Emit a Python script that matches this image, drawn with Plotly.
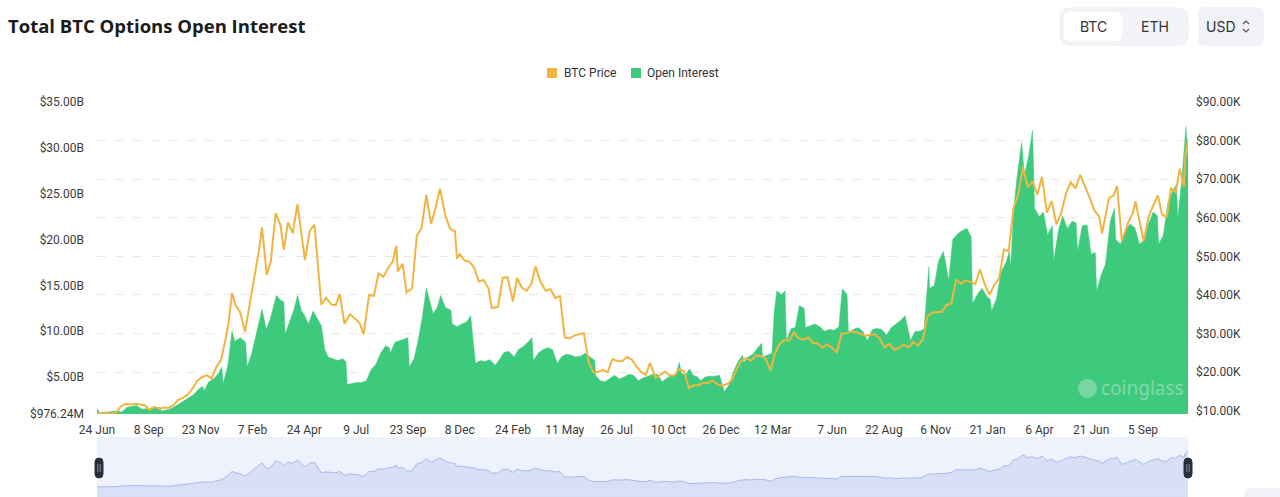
"""Total BTC Options Open Interest — coinglass-style chart, rebuilt with go.*."""

import plotly.graph_objects as go

# ---- data ----
price_dates = [
    "2020-06-24", "2020-07-01", "2020-07-08", "2020-07-15", "2020-07-22", "2020-07-29", "2020-08-05",
    "2020-08-12", "2020-08-19", "2020-08-26", "2020-09-02", "2020-09-09", "2020-09-16", "2020-09-23",
    "2020-09-30", "2020-10-07", "2020-10-14", "2020-10-21", "2020-10-28", "2020-11-04", "2020-11-11",
    "2020-11-18", "2020-11-25", "2020-12-02", "2020-12-09", "2020-12-16", "2020-12-23", "2020-12-30",
    "2021-01-03", "2021-01-08", "2021-01-13", "2021-01-20", "2021-01-27", "2021-02-03", "2021-02-10",
    "2021-02-17", "2021-02-21", "2021-02-28", "2021-03-06", "2021-03-13", "2021-03-20", "2021-03-25",
    "2021-03-31", "2021-04-07", "2021-04-14", "2021-04-21", "2021-04-25", "2021-05-02", "2021-05-09",
    "2021-05-13", "2021-05-19", "2021-05-26", "2021-06-02", "2021-06-09", "2021-06-15", "2021-06-22",
    "2021-06-30", "2021-07-07", "2021-07-14", "2021-07-20", "2021-07-28", "2021-08-04", "2021-08-11",
    "2021-08-18", "2021-08-25", "2021-09-01", "2021-09-06", "2021-09-08", "2021-09-15", "2021-09-21",
    "2021-09-29", "2021-10-06", "2021-10-13", "2021-10-20", "2021-10-27", "2021-11-03", "2021-11-09",
    "2021-11-17", "2021-11-24", "2021-12-01", "2021-12-04", "2021-12-08", "2021-12-15", "2021-12-22",
    "2021-12-29", "2022-01-05", "2022-01-12", "2022-01-19", "2022-01-24", "2022-02-02", "2022-02-09",
    "2022-02-16", "2022-02-24", "2022-03-02", "2022-03-09", "2022-03-16", "2022-03-23", "2022-03-29",
    "2022-04-06", "2022-04-13", "2022-04-20", "2022-04-27", "2022-05-04", "2022-05-11", "2022-05-18",
    "2022-05-25", "2022-06-01", "2022-06-08", "2022-06-15", "2022-06-22", "2022-06-29", "2022-07-06",
    "2022-07-13", "2022-07-20", "2022-07-27", "2022-08-03", "2022-08-10", "2022-08-17", "2022-08-24",
    "2022-08-31", "2022-09-07", "2022-09-13", "2022-09-21", "2022-09-28", "2022-10-05", "2022-10-12",
    "2022-10-19", "2022-10-26", "2022-11-02", "2022-11-09", "2022-11-16", "2022-11-23", "2022-11-30",
    "2022-12-07", "2022-12-14", "2022-12-21", "2022-12-28", "2023-01-04", "2023-01-11", "2023-01-18",
    "2023-01-25", "2023-02-01", "2023-02-08", "2023-02-15", "2023-02-22", "2023-03-01", "2023-03-09",
    "2023-03-15", "2023-03-22", "2023-03-29", "2023-04-05", "2023-04-12", "2023-04-19", "2023-04-26",
    "2023-05-03", "2023-05-10", "2023-05-17", "2023-05-24", "2023-05-31", "2023-06-07", "2023-06-14",
    "2023-06-21", "2023-06-28", "2023-07-05", "2023-07-12", "2023-07-19", "2023-07-26", "2023-08-02",
    "2023-08-09", "2023-08-16", "2023-08-23", "2023-08-30", "2023-09-06", "2023-09-13", "2023-09-20",
    "2023-09-27", "2023-10-04", "2023-10-11", "2023-10-18", "2023-10-25", "2023-11-01", "2023-11-08",
    "2023-11-15", "2023-11-22", "2023-11-29", "2023-12-06", "2023-12-13", "2023-12-20", "2023-12-27",
    "2024-01-03", "2024-01-10", "2024-01-17", "2024-01-24", "2024-01-31", "2024-02-07", "2024-02-14",
    "2024-02-21", "2024-02-28", "2024-03-06", "2024-03-13", "2024-03-20", "2024-03-27", "2024-04-03",
    "2024-04-10", "2024-04-17", "2024-04-24", "2024-05-01", "2024-05-08", "2024-05-15", "2024-05-22",
    "2024-05-29", "2024-06-05", "2024-06-12", "2024-06-19", "2024-06-26", "2024-07-03", "2024-07-07",
    "2024-07-17", "2024-07-24", "2024-07-29", "2024-08-05", "2024-08-14", "2024-08-21", "2024-08-25",
    "2024-09-06", "2024-09-13", "2024-09-20", "2024-09-27", "2024-10-03", "2024-10-10", "2024-10-16",
    "2024-10-23", "2024-10-29", "2024-11-04", "2024-11-06", "2024-11-10",
]
btc_price_k = [
    9.3, 9.2, 9.4, 9.2, 9.5, 11.1, 11.7,
    11.6, 11.8, 11.5, 11.4, 10.2, 11.0, 10.5,
    10.8, 10.7, 11.4, 12.8, 13.3, 14.1, 15.7,
    17.8, 18.7, 19.2, 18.3, 21.3, 23.2, 28.9,
    32.8, 40.5, 37.4, 35.5, 30.4, 37.6, 44.9,
    52.1, 57.5, 45.2, 48.9, 61.2, 58.1, 51.7,
    58.8, 56.0, 63.5, 53.8, 49.0, 56.6, 58.2,
    49.6, 37.5, 39.3, 37.6, 37.3, 40.2, 32.5,
    35.0, 33.9, 32.8, 29.8, 40.0, 39.7, 45.6,
    44.7, 47.0, 48.8, 52.7, 46.1, 48.1, 40.7,
    41.6, 55.3, 57.4, 65.9, 58.4, 62.9, 67.5,
    60.4, 57.1, 56.5, 49.4, 50.6, 48.9, 48.6,
    47.1, 43.5, 43.9, 41.7, 36.6, 36.9, 44.4,
    44.6, 38.3, 44.4, 41.9, 41.1, 42.9, 47.4,
    43.2, 41.1, 41.5, 39.2, 39.7, 29.0, 28.7,
    29.5, 29.8, 30.1, 22.6, 19.9, 20.1, 20.5,
    20.0, 23.4, 22.9, 22.8, 23.9, 23.3, 21.5,
    20.0, 19.3, 22.4, 18.5, 19.4, 20.1, 19.1,
    19.1, 20.8, 20.2, 15.9, 16.6, 16.6, 17.2,
    17.2, 17.8, 16.8, 16.5, 16.9, 17.9, 20.7,
    23.0, 23.7, 22.9, 24.3, 24.2, 23.6, 20.4,
    24.7, 27.3, 28.3, 28.2, 30.3, 28.8, 28.4,
    29.0, 27.6, 27.4, 26.3, 27.2, 26.3, 25.1,
    30.0, 30.1, 30.5, 30.4, 29.9, 29.4, 29.7,
    29.8, 28.7, 26.4, 27.3, 25.8, 26.2, 27.1,
    26.4, 27.8, 26.9, 28.4, 34.5, 35.4, 35.6,
    35.6, 37.4, 37.8, 44.0, 42.9, 43.7, 43.4,
    42.8, 46.6, 42.7, 40.0, 42.6, 44.3, 51.8,
    51.3, 62.4, 66.1, 73.1, 67.9, 69.5, 66.0,
    70.6, 61.3, 64.3, 58.3, 61.2, 66.2, 69.2,
    67.6, 71.1, 68.2, 65.1, 61.8, 60.2, 55.9,
    65.1, 65.8, 68.3, 54.0, 58.7, 61.2, 64.2,
    53.9, 60.0, 63.2, 65.8, 60.8, 60.3, 67.6,
    66.7, 72.7, 68.0, 75.9, 80.4,
]

oi_dates = [
    "2020-06-24", "2020-06-27", "2020-07-10", "2020-07-24", "2020-07-31", "2020-08-07", "2020-08-21",
    "2020-08-29", "2020-09-10", "2020-09-24", "2020-09-26", "2020-10-09", "2020-10-21", "2020-10-30",
    "2020-11-06", "2020-11-13", "2020-11-20", "2020-11-26", "2020-11-28", "2020-12-05", "2020-12-12",
    "2020-12-19", "2020-12-24", "2020-12-26", "2021-01-02", "2021-01-08", "2021-01-12", "2021-01-20",
    "2021-01-28", "2021-01-30", "2021-02-06", "2021-02-12", "2021-02-17", "2021-02-21", "2021-02-25",
    "2021-02-27", "2021-03-05", "2021-03-10", "2021-03-14", "2021-03-20", "2021-03-25", "2021-03-27",
    "2021-04-03", "2021-04-09", "2021-04-14", "2021-04-20", "2021-04-24", "2021-04-30", "2021-05-07",
    "2021-05-13", "2021-05-19", "2021-05-24", "2021-05-29", "2021-06-05", "2021-06-12", "2021-06-19",
    "2021-06-24", "2021-06-26", "2021-07-03", "2021-07-10", "2021-07-17", "2021-07-24", "2021-07-31",
    "2021-08-07", "2021-08-14", "2021-08-21", "2021-08-27", "2021-08-28", "2021-09-04", "2021-09-11",
    "2021-09-18", "2021-09-23", "2021-09-25", "2021-10-02", "2021-10-08", "2021-10-14", "2021-10-20",
    "2021-10-26", "2021-10-30", "2021-11-05", "2021-11-10", "2021-11-17", "2021-11-25", "2021-11-27",
    "2021-12-04", "2021-12-11", "2021-12-18", "2021-12-24", "2021-12-31", "2022-01-07", "2022-01-14",
    "2022-01-21", "2022-01-29", "2022-02-05", "2022-02-11", "2022-02-18", "2022-02-26", "2022-03-04",
    "2022-03-11", "2022-03-18", "2022-03-24", "2022-03-26", "2022-04-02", "2022-04-09", "2022-04-16",
    "2022-04-23", "2022-04-30", "2022-05-06", "2022-05-13", "2022-05-20", "2022-05-27", "2022-06-03",
    "2022-06-10", "2022-06-17", "2022-06-24", "2022-06-25", "2022-07-02", "2022-07-09", "2022-07-16",
    "2022-07-23", "2022-07-30", "2022-08-06", "2022-08-13", "2022-08-20", "2022-08-27", "2022-09-03",
    "2022-09-10", "2022-09-17", "2022-09-24", "2022-10-01", "2022-10-08", "2022-10-15", "2022-10-21",
    "2022-10-26", "2022-10-29", "2022-11-05", "2022-11-10", "2022-11-15", "2022-11-22", "2022-11-26",
    "2022-12-03", "2022-12-10", "2022-12-17", "2022-12-24", "2022-12-31", "2023-01-07", "2023-01-14",
    "2023-01-21", "2023-01-27", "2023-01-28", "2023-02-04", "2023-02-11", "2023-02-18", "2023-02-24",
    "2023-02-25", "2023-03-04", "2023-03-11", "2023-03-14", "2023-03-18", "2023-03-25", "2023-03-30",
    "2023-04-01", "2023-04-08", "2023-04-14", "2023-04-20", "2023-04-27", "2023-04-29", "2023-05-06",
    "2023-05-13", "2023-05-20", "2023-05-27", "2023-06-03", "2023-06-10", "2023-06-17", "2023-06-22",
    "2023-06-29", "2023-07-01", "2023-07-08", "2023-07-15", "2023-07-22", "2023-07-29", "2023-08-05",
    "2023-08-12", "2023-08-19", "2023-08-26", "2023-09-02", "2023-09-09", "2023-09-16", "2023-09-22",
    "2023-09-30", "2023-10-07", "2023-10-14", "2023-10-20", "2023-10-24", "2023-10-27", "2023-10-28",
    "2023-11-04", "2023-11-10", "2023-11-17", "2023-11-21", "2023-11-25", "2023-12-01", "2023-12-08",
    "2023-12-15", "2023-12-22", "2023-12-28", "2023-12-30", "2024-01-06", "2024-01-13", "2024-01-20",
    "2024-01-25", "2024-01-27", "2024-02-03", "2024-02-10", "2024-02-17", "2024-02-22", "2024-02-24",
    "2024-02-28", "2024-03-04", "2024-03-11", "2024-03-15", "2024-03-21", "2024-03-27", "2024-03-30",
    "2024-04-06", "2024-04-12", "2024-04-18", "2024-04-25", "2024-04-27", "2024-05-04", "2024-05-10",
    "2024-05-17", "2024-05-24", "2024-05-30", "2024-06-01", "2024-06-08", "2024-06-15", "2024-06-21",
    "2024-06-27", "2024-06-29", "2024-07-06", "2024-07-12", "2024-07-19", "2024-07-25", "2024-07-27",
    "2024-08-03", "2024-08-10", "2024-08-17", "2024-08-24", "2024-08-31", "2024-09-07", "2024-09-13",
    "2024-09-20", "2024-09-26", "2024-09-28", "2024-10-05", "2024-10-11", "2024-10-18", "2024-10-24",
    "2024-10-26", "2024-11-01", "2024-11-07", "2024-11-10",
]
oi_billion = [
    1.6, 1.1, 1.2, 1.3, 1.2, 1.7, 1.9,
    1.5, 1.6, 1.7, 1.3, 1.5, 2.0, 2.4,
    2.8, 3.1, 3.7, 4.0, 3.5, 4.5, 4.8,
    5.4, 6.1, 4.3, 6.3, 10.0, 8.9, 9.3,
    8.8, 6.1, 7.6, 9.6, 11.2, 12.4, 11.0,
    10.2, 11.3, 12.6, 13.9, 13.4, 13.2, 9.7,
    11.2, 12.4, 13.9, 12.2, 11.8, 10.8, 12.2,
    11.4, 10.6, 8.0, 7.2, 7.0, 6.8, 7.0,
    6.7, 4.2, 4.3, 4.4, 4.4, 4.6, 5.8,
    6.4, 7.6, 8.4, 8.2, 7.6, 8.8, 9.0,
    9.2, 9.3, 6.1, 7.0, 9.0, 11.5, 14.7,
    13.0, 11.9, 12.6, 13.9, 12.6, 12.3, 10.8,
    10.5, 10.8, 11.0, 11.7, 6.5, 6.8, 6.7,
    6.9, 6.3, 7.0, 7.7, 7.8, 7.2, 8.0,
    8.3, 8.8, 9.3, 6.8, 7.6, 8.0, 8.2,
    8.0, 6.5, 7.2, 7.5, 7.4, 7.2, 7.3,
    7.6, 7.2, 6.8, 5.2, 4.6, 4.5, 4.9,
    5.2, 4.8, 5.0, 5.3, 5.2, 4.6, 4.9,
    5.1, 5.3, 5.3, 4.5, 4.9, 5.2, 5.3,
    6.6, 5.4, 5.3, 5.9, 5.2, 5.0, 4.6,
    5.0, 5.1, 5.1, 5.2, 3.4, 4.2, 5.7,
    6.8, 7.4, 6.6, 7.2, 7.5, 8.2, 8.7,
    7.2, 7.4, 7.6, 12.0, 14.4, 14.0, 14.4,
    9.0, 10.3, 10.4, 12.8, 12.5, 10.4, 10.6,
    10.8, 10.5, 10.0, 10.2, 10.1, 10.5, 14.6,
    14.0, 9.8, 10.2, 10.4, 10.0, 9.0, 10.2,
    10.3, 10.2, 9.6, 10.4, 10.8, 11.2, 11.7,
    9.0, 10.0, 10.0, 10.3, 14.7, 17.0, 14.7,
    15.0, 17.6, 18.7, 17.3, 15.5, 20.0, 20.6,
    21.0, 21.2, 20.3, 13.0, 14.0, 14.7, 13.8,
    13.5, 12.2, 13.5, 16.5, 17.5, 18.7, 17.0,
    23.0, 26.6, 30.6, 27.0, 29.0, 31.9, 23.4,
    22.5, 23.0, 20.5, 21.5, 17.6, 21.0, 22.6,
    21.2, 22.0, 21.8, 18.7, 21.5, 21.6, 18.4,
    18.6, 14.4, 16.2, 17.3, 22.0, 23.4, 20.0,
    19.5, 21.0, 21.7, 21.3, 19.5, 20.0, 21.7,
    23.0, 22.6, 19.5, 20.5, 23.8, 25.2, 26.0,
    22.3, 26.6, 32.3, 28.8,
]

tick_dates = [
    "2020-06-24", "2020-09-08", "2020-11-23", "2021-02-07", "2021-04-24", "2021-07-09", "2021-09-23",
    "2021-12-08", "2022-02-24", "2022-05-11", "2022-07-26", "2022-10-10", "2022-12-26", "2023-03-12",
    "2023-06-07", "2023-08-22", "2023-11-06", "2024-01-21", "2024-04-06", "2024-06-21", "2024-09-05",
]
tick_labels = [
    "24 Jun", "8 Sep", "23 Nov", "7 Feb", "24 Apr", "9 Jul", "23 Sep",
    "8 Dec", "24 Feb", "11 May", "26 Jul", "10 Oct", "26 Dec", "12 Mar",
    "7 Jun", "22 Aug", "6 Nov", "21 Jan", "6 Apr", "21 Jun", "5 Sep",
]
oi_ticks = [0.97624, 5, 10, 15, 20, 25, 30, 35]
oi_tick_labels = ["$976.24M", "$5.00B", "$10.00B", "$15.00B", "$20.00B", "$25.00B", "$30.00B", "$35.00B"]
price_ticks = [10, 20, 30, 40, 50, 60, 70, 80, 90]
price_tick_labels = ["$10.00K", "$20.00K", "$30.00K", "$40.00K", "$50.00K",
                     "$60.00K", "$70.00K", "$80.00K", "$90.00K"]
series_names = ["BTC Price", "Open Interest"]

ORANGE = "#F0B443"
GREEN = "#3DCA7C"
TEXT = "#333333"
TICK_FONT = dict(family="Roboto, sans-serif", size=12, color="#3a3a3a")

# ---- page geometry (pixels) ----
W, H = 1280, 497
ML, MR, MT, MB = 97, 92, 102, 0
PW, PH = W - ML - MR, H - MT - MB


def px(x):
    return (x - ML) / PW


def py(y):
    return (H - MB - y) / PH


def rrect(x0, y0, x1, y1, r):
    """rounded rectangle path in paper coords, input in page pixels"""
    pts = [
        ("M", x0 + r, y0), ("L", x1 - r, y0), ("Q", x1, y0, x1, y0 + r), ("L", x1, y1 - r),
        ("Q", x1, y1, x1 - r, y1), ("L", x0 + r, y1), ("Q", x0, y1, x0, y1 - r), ("L", x0, y0 + r),
        ("Q", x0, y0, x0 + r, y0),
    ]
    out = []
    for p in pts:
        cmd, coords = p[0], p[1:]
        xy = [f"{px(coords[i]):.5f},{py(coords[i + 1]):.5f}" for i in range(0, len(coords), 2)]
        out.append(cmd + " ".join(xy))
    return " ".join(out) + " Z"


def pill(hw, hh, r):
    """rounded rect path in pixel offsets around an anchor"""
    return (f"M{-hw + r},{-hh} L{hw - r},{-hh} Q{hw},{-hh} {hw},{-hh + r} L{hw},{hh - r} "
            f"Q{hw},{hh} {hw - r},{hh} L{-hw + r},{hh} Q{-hw},{hh} {-hw},{hh - r} "
            f"L{-hw},{-hh + r} Q{-hw},{-hh} {-hw + r},{-hh} Z")


def label(text, x, y, size=14, color=TEXT, family="Inter, sans-serif", xanchor="center"):
    return dict(text=text, x=px(x), y=py(y), xref="paper", yref="paper", showarrow=False,
                xanchor=xanchor, yanchor="middle", font=dict(family=family, size=size, color=color))


fig = go.Figure()

# main chart
fig.add_trace(go.Scatter(x=oi_dates, y=oi_billion, name=series_names[1], mode="lines",
                         line=dict(color=GREEN, width=0.5), fill="tozeroy", fillcolor=GREEN,
                         xaxis="x", yaxis="y", showlegend=False))
fig.add_trace(go.Scatter(x=price_dates, y=btc_price_k, name=series_names[0], mode="lines",
                         line=dict(color=ORANGE, width=2), xaxis="x", yaxis="y2", showlegend=False))

# navigator (bottom zoom strip)
fig.add_trace(go.Scatter(x=price_dates, y=btc_price_k, mode="lines", line=dict(color="#A9B7EA", width=1),
                         fill="tozeroy", fillcolor="#D8E0F8", xaxis="x2", yaxis="y3",
                         showlegend=False, hoverinfo="skip"))

x_range = [price_dates[0], price_dates[-1]]

shapes = [
    # navigator band + fill continuation below zero
    dict(type="rect", xref="x2 domain", yref="y3 domain", x0=0, x1=1, y0=0, y1=1,
         fillcolor="#EEF2FD", line_width=0, layer="below"),
    dict(type="rect", xref="x2 domain", yref="y3", x0=0, x1=1, y0=-11, y1=0,
         fillcolor="#D8E0F8", line_width=0, layer="below"),
    # segmented BTC / ETH control
    dict(type="path", xref="paper", yref="paper", path=rrect(1060, 8, 1188, 45, 10),
         fillcolor="#F2F4F7", line=dict(color="#ECEEF2", width=1)),
    dict(type="path", xref="paper", yref="paper", path=rrect(1063, 11, 1123, 42, 8),
         fillcolor="#FFFFFF", line=dict(color="#EEF0F2", width=1)),
    # USD selector
    dict(type="path", xref="paper", yref="paper", path=rrect(1198, 7, 1264, 46, 8),
         fillcolor="#F0F2F5", line_width=0),
    dict(type="path", xref="paper", yref="paper",
         path=f"M{px(1243):.5f},{py(24):.5f} L{px(1246):.5f},{py(21):.5f} L{px(1249):.5f},{py(24):.5f} "
              f"M{px(1243):.5f},{py(29):.5f} L{px(1246):.5f},{py(32):.5f} L{px(1249):.5f},{py(29):.5f}",
         line=dict(color="#555555", width=1.2)),
    # corner button (cut off at the bottom)
    dict(type="path", xref="paper", yref="paper", path=rrect(1244, 488, 1292, 530, 8),
         fillcolor="#F0F2F5", line_width=0),
    # watermark logo dot
    dict(type="circle", xref="paper", yref="paper", x0=px(1078), x1=px(1097), y0=py(398), y1=py(379),
         fillcolor="rgba(235,235,235,0.35)", line_width=0),
    # legend swatches
    dict(type="rect", xref="paper", yref="paper", x0=px(547), x1=px(557), y0=py(78), y1=py(68),
         fillcolor=ORANGE, line_width=0),
    dict(type="rect", xref="paper", yref="paper", x0=px(631), x1=px(641), y0=py(78), y1=py(68),
         fillcolor=GREEN, line_width=0),
]
# navigator handles at both ends of the strip (paper refs so they are not clipped)
for hx in (99, 1188):
    shapes.append(dict(type="path", xref="paper", yref="paper", xsizemode="pixel", ysizemode="pixel",
                       xanchor=px(hx), yanchor=py(468), path=pill(4, 10, 4),
                       fillcolor="#2A2F3D", line=dict(color="#2A2F3D", width=1)))
    shapes.append(dict(type="path", xref="paper", yref="paper", xsizemode="pixel", ysizemode="pixel",
                       xanchor=px(hx), yanchor=py(468), path="M-1.2,-4 L-1.2,4 M1.2,-4 L1.2,4",
                       line=dict(color="#9AA0AE", width=0.8)))

annotations = [
    label("BTC", 1093, 26.5),
    label("ETH", 1155, 26.5),
    label("USD", 1221, 26.5),
    label("coinglass", 1142, 388, size=19, color="rgba(235,235,235,0.42)", family="Noto Sans, sans-serif"),
    label(series_names[0], 562, 73, size=12, family="Roboto, sans-serif", xanchor="left"),
    label(series_names[1], 645, 73, size=12, family="Roboto, sans-serif", xanchor="left"),
]

no_auto = dict(automargin=False, zeroline=False, showline=False, ticks="")

fig.update_layout(
    template="none",
    width=W, height=H, autosize=False,
    paper_bgcolor="white", plot_bgcolor="white",
    margin=dict(l=ML, r=MR, t=MT, b=MB, pad=0),
    font=dict(family="Roboto, sans-serif", size=12, color=TEXT),
    title=dict(text="<b>Total BTC Options Open Interest</b>", x=8 / W, xanchor="left",
               y=1 - 27 / H, yanchor="middle", xref="container", yref="container",
               font=dict(family="Open Sans, sans-serif", size=18.5, color="#1b1b1b")),
    showlegend=False,
    xaxis=dict(type="date", range=x_range, domain=[0, 1], anchor="y",
               tickmode="array", tickvals=tick_dates, ticktext=tick_labels, tickangle=0,
               showgrid=False, tickfont=TICK_FONT, ticklabelstandoff=7, **no_auto),
    yaxis=dict(range=[oi_ticks[0], oi_ticks[-1]], domain=[py(414), 1], tickmode="array",
               tickvals=oi_ticks, ticktext=oi_tick_labels, showgrid=False,
               tickfont=TICK_FONT, ticklabelstandoff=12, **no_auto),
    yaxis2=dict(range=[9.14, 90], overlaying="y", side="right", anchor="x", tickmode="array",
                tickvals=price_ticks, ticktext=price_tick_labels, showgrid=True,
                gridcolor="#E9E9E9", griddash="dash", gridwidth=1,
                tickfont=TICK_FONT, ticklabelstandoff=7, **no_auto),
    xaxis2=dict(type="date", range=x_range, domain=[0, 1], anchor="y3", showticklabels=False,
                showgrid=False, **no_auto),
    yaxis3=dict(range=[-11, 109], domain=[0, py(437)], showticklabels=False, showgrid=False, **no_auto),
    shapes=shapes,
    annotations=annotations,
    hovermode=False,
)

# the page's default 8px body margin would shift the whole figure
fig.write_html("out.html", config={"displayModeBar": False},
               post_script="document.body.style.margin='0';document.body.style.overflow='hidden';")
